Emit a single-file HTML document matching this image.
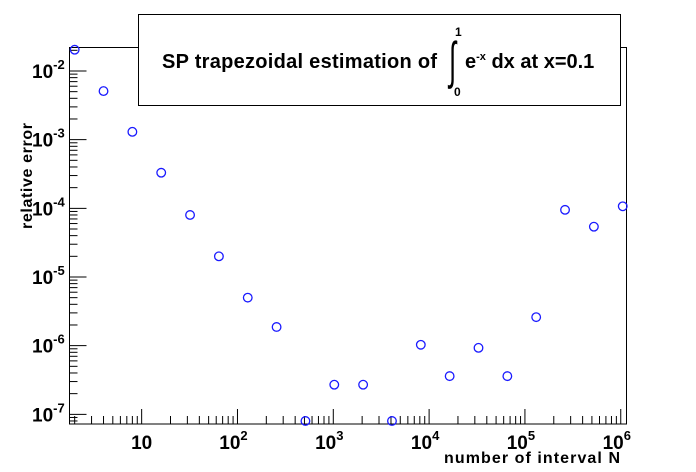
<!DOCTYPE html>
<html><head><meta charset="utf-8"><style>
body{margin:0;background:#fff}
svg{display:block;font-family:"Liberation Sans",Arial,sans-serif;font-weight:bold}
</style></head><body>
<svg id="chart" width="696" height="472" viewBox="0 0 696 472">
<rect x="0" y="0" width="696" height="472" fill="#fff"/>
<g id="ticks"></g>
<rect x="69.5" y="47.5" width="557" height="376.5" fill="none" stroke="#000"/>
<g id="points"></g>
<g id="labels" font-size="19"></g>
<text x="620" y="463" text-anchor="end" font-size="16" textLength="176">number of interval N</text>
<text transform="translate(32,176) rotate(-90)" text-anchor="middle" font-size="16" textLength="106">relative error</text>
<g>
<rect x="138.5" y="14.5" width="482" height="91" fill="#fff" stroke="#000"/>
<text x="162" y="68" font-size="20" textLength="275">SP trapezoidal estimation of</text>
<text transform="translate(449,78) scale(0.8,1.6)" font-size="32" font-weight="normal">∫</text>
<text x="455" y="36" font-size="12">1</text>
<text x="454" y="96" font-size="12">0</text>
<text x="465" y="68" font-size="20">e<tspan dy="-8" font-size="11">-x</tspan><tspan dy="8"> dx at x=0.1</tspan></text>
</g>
</svg>
<script>
const nValues=[2,4,8,16,32,64,128,256,512,1024,2048,4096,8192,16384,32768,65536,131072,262144,524288,1048576];
const errValues=[2.04e-2,5.1e-3,1.3e-3,3.3e-4,8e-5,2e-5,5e-6,1.87e-6,8e-8,2.7e-7,2.7e-7,8e-8,1.03e-6,3.6e-7,9.3e-7,3.6e-7,2.6e-6,9.5e-5,5.4e-5,1.07e-4];
const xTickExps=[1,2,3,4,5,6];
const yTickExps=[-2,-3,-4,-5,-6,-7];

const L=69.5,R=626.5,T=47.5,B=424;
const xMinL=0.247,xMaxL=6.06,yMinL=-7.141,yMaxL=-1.658;
const xs=v=>L+(Math.log10(v)-xMinL)/(xMaxL-xMinL)*(R-L);
const ys=v=>B-(Math.log10(v)-yMinL)/(yMaxL-yMinL)*(B-T);
const NS="http://www.w3.org/2000/svg";
const tg=document.getElementById('ticks'),pg=document.getElementById('points'),lg=document.getElementById('labels');
function line(x1,y1,x2,y2){const l=document.createElementNS(NS,'line');l.setAttribute('x1',x1);l.setAttribute('y1',y1);l.setAttribute('x2',x2);l.setAttribute('y2',y2);l.setAttribute('stroke','#000');l.setAttribute('stroke-width','1');


tg.appendChild(l);}
for(let e=0;e<=6;e++){for(let m=1;m<10;m++){const v=m*Math.pow(10,e);const lv=Math.log10(v);if(lv<xMinL||lv>xMaxL)continue;const x=xs(v);line(x,B,x,B-(m===1?15:8));}}
for(let e=-8;e<=-1;e++){for(let m=1;m<10;m++){const v=m*Math.pow(10,e);const lv=Math.log10(v);if(lv<yMinL||lv>yMaxL)continue;const y=ys(v);line(L,y,L+(m===1?17:8),y);}}
xTickExps.forEach(e=>{const t=document.createElementNS(NS,'text');t.setAttribute('x',xs(Math.pow(10,e))+(e===1?0:-4));t.setAttribute('y',449);t.setAttribute('text-anchor','middle');
if(e===1){t.textContent='10';}else{t.innerHTML='10<tspan dy="-9" font-size="13">'+e+'</tspan>';}


lg.appendChild(t);});
yTickExps.forEach(e=>{const t=document.createElementNS(NS,'text');t.setAttribute('x',32);t.setAttribute('y',ys(Math.pow(10,e))+7);
t.innerHTML='10<tspan dy="-9" font-size="13">'+e+'</tspan>';


lg.appendChild(t);});
nValues.forEach((n,i)=>{const c=document.createElementNS(NS,'circle');c.setAttribute('cx',xs(n));c.setAttribute('cy',ys(errValues[i]));c.setAttribute('r',4.3);c.setAttribute('fill','none');c.setAttribute('stroke','#1a1aff');c.setAttribute('stroke-width','1.3');


pg.appendChild(c);});
</script>
</body></html>
